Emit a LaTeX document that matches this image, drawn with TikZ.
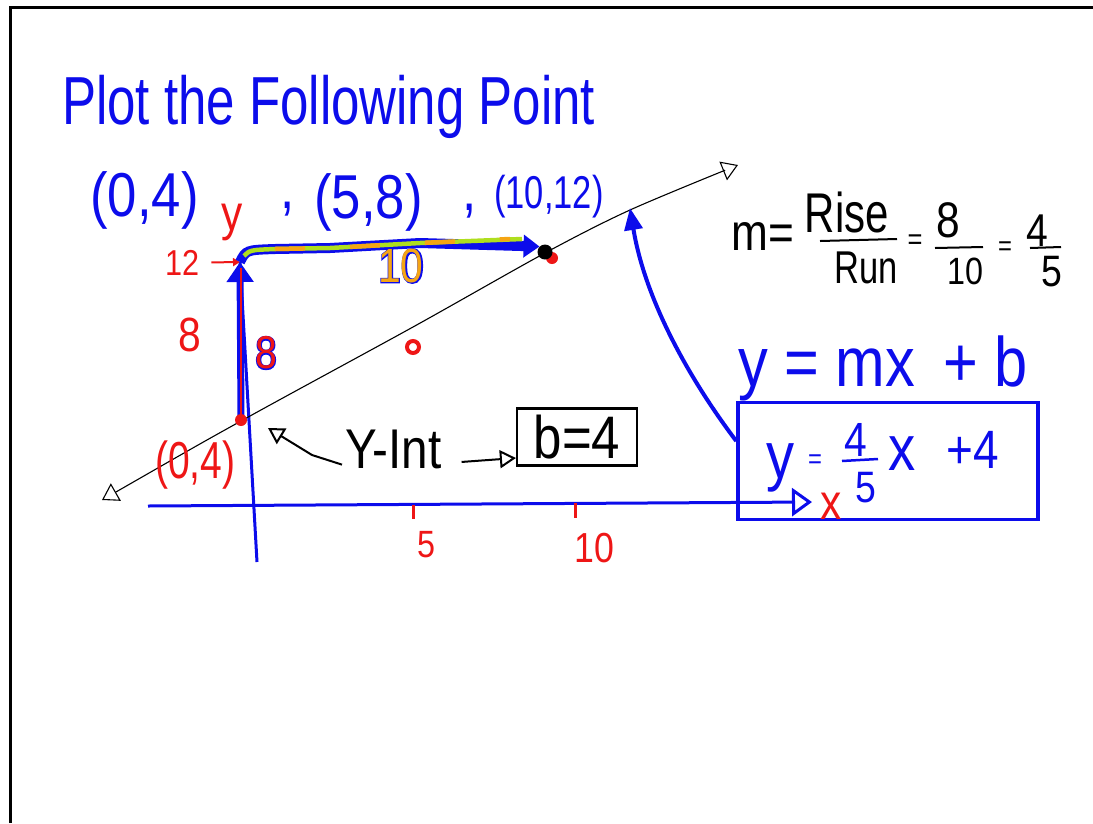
\documentclass[tikz,border=0pt]{standalone}
\usepackage{fontspec}
\setmainfont{Liberation Sans}
\newfontfamily\hand{Liberation Sans}[FakeStretch=0.85]
\newfontfamily\handN{Liberation Sans}[FakeStretch=0.75]
\newfontfamily\handbold{Liberation Sans}[FakeStretch=0.85,FakeBold=4]
\usetikzlibrary{arrows.meta, positioning, calc}
\definecolor{inkBlue} {RGB}{12,12,235}
\definecolor{inkRed}  {RGB}{238,22,22}
\definecolor{runGreen}{RGB}{175,222,30}
\definecolor{runOrange}{RGB}{245,165,20}
\newcommand\hsz[1]{\fontsize{#1}{#1}\selectfont}
\tikzset{
  hw/.style       = {inner sep=0pt, font=\hand\hsz{#1}},
  hwn/.style      = {inner sep=0pt, font=\handN\hsz{#1}},
  hwb/.style      = {inner sep=0pt, font=\handbold\hsz{#1}},
  bluetxt/.style  = {text=inkBlue},
  redtxt/.style   = {text=inkRed},
  axis/.style     = {draw=inkBlue, line width=3pt},
  tick/.style     = {draw=inkRed, line width=3pt},
  slopeline/.style= {draw=black, line width=1.1pt,
                     {Triangle[open, length=16pt, width=20pt]}-{Triangle[open, length=16pt, width=20pt]}},
  fracline/.style = {draw=black, line width=2pt},
  note/.style     = {draw=black, line width=2pt, -{Triangle[open, length=16pt, width=18pt]}},
  riseOuter/.style= {draw=inkBlue, line width=7pt, -{Triangle[length=20pt, width=26pt]}},
  riseInner/.style= {draw=inkRed, line width=1.5pt},
  runOuter/.style = {draw=inkBlue, line width=10pt, -{Triangle[length=16pt, width=22pt]}},
  runInner/.style = {draw=runGreen, line width=4.5pt},
  bigarrow/.style = {draw=inkBlue, line width=4pt, -{Triangle[length=22pt, width=18pt]}},
  dotRed/.style   = {circle, fill=inkRed, inner sep=0pt, minimum size=12pt},
}

\begin{document}
\begin{tikzpicture}[x=1pt, y=-1pt]
\useasboundingbox (0,0) rectangle (1093,823);

%% -- board frame
\draw[line width=3pt] (10,823) -- (10,7) -- (1093,7);

%% -- title and points
\node[hwn=68, bluetxt, anchor=base west] (title) at (62,124) {Plot the Following Point};
\node[hw=62, bluetxt, anchor=base west] (ptA) at (90,216) {(0,4)};
\node[hw=60, bluetxt, anchor=base west] (commaA) at (280,208) {,};
\node[hw=62, bluetxt, anchor=base west] (ptB) at (314,218) {(5,8)};
\node[hw=60, bluetxt, anchor=base west] (commaB) at (462,210) {,};
\node[hwn=46, bluetxt, anchor=base west] (ptC) at (494,208) {(10,12)};

%% -- axes
\coordinate (yBot) at (257,562);
\coordinate (yTop) at (240,262);
\coordinate (xStart) at (148,506);
\coordinate (xEnd) at (812,502);
\draw[axis] (yBot) -- (yTop);
\draw[axis, -{Triangle[open, length=20pt, width=28pt]}] (xStart) -- (xEnd);
\draw[tick] (413,505) -- (413,519);
\draw[tick] (575,503) -- (575,518);
\node[hw=38, redtxt] (lblFive) at (426,545) {5};
\node[hw=42, redtxt] (lblTen) at (594,548) {10};
\node[hw=50, redtxt, anchor=base west] (lblY) at (221,230) {y};
\node[hw=36, redtxt, anchor=base west] (lblTwelve) at (165,275) {12};
\node[hw=48, redtxt, anchor=base west] (lblEight) at (178,351) {8};
\draw[inkRed, line width=2pt, -{Triangle[length=7pt, width=8pt]}] ([xshift=12pt]lblTwelve.east) -- (yTop);

%% -- the line y = 4/5 x + 4
\coordinate (slopeTip) at (630,208);
\draw[slopeline] plot[smooth] coordinates
  {(102,500) (241,421) (413,327) (545,253) (630,210) (738,165)};

%% -- plotted points
\node[dotRed] (dotC) at (552,258) {};
\node[circle, fill=black, inner sep=0pt, minimum size=15pt] (pC) at (545,252) {};
\node[circle, draw=inkRed, line width=4pt, fill=white, inner sep=0pt, minimum size=12pt] (pB) at (413,347) {};

%% -- rise and run
\draw[riseOuter] (241,418) -- (yTop);
\draw[riseInner] (241,418) -- (241,268);
\node[dotRed] (pA) at (241,420) {};
\draw[runOuter] (yTop) .. controls (246,250) .. (275,249) -- (330,248) -- (420,243) -- (pC.north west);
\draw[runInner] (244,256) .. controls (250,250) .. (275,249) -- (330,248) -- (420,243) -- (522,239);
\draw[runOrange, line width=4.5pt, dash pattern=on 30pt off 45pt] (275,249) -- (330,248) -- (420,243) -- (510,239);
\node[hwb=48, bluetxt] (runB) at (401,266) {10};
\node[hw=48, text=runOrange] (run) at (401,266) {10};
\node[hwb=46, bluetxt] (riseB) at (266,353) {8};
\node[hw=46, redtxt] (rise) at (266,353) {8};
\node[hwn=52, redtxt, anchor=base west] (lblA) at (155,478) {(0,4)};

%% -- y-intercept note
\node[hw=56, anchor=base west] (yint) at (345,468) {Y-Int};
\coordinate (yintTip) at (268,428);
\draw[note] ([xshift=-3pt, yshift=4pt]yint.south west) -- (312,455) -- (yintTip);
\node[hw=60, draw, line width=2.2pt, minimum width=120pt, minimum height=57pt] (boxB) at (577,437) {b=4};
\draw[note] ([xshift=20pt, yshift=-13pt]yint.east) -- ([yshift=-21pt]boxB.west);

%% -- slope
\node[hw=52, anchor=base west] (mEq) at (731,250) {m=};
\node[hwn=56] (riseTxt) at (847,212) {Rise};
\node[hwn=46] (runTxt) at (866,268) {Run};
\draw[fracline] (820,241) -- (897,239);
\node[hw=30] (eqA) at (915,242) {=};
\node[hw=50] (num) at (948,220) {8};
\draw[fracline] (935,248) -- (983,247);
\node[hw=38] (den) at (965,271) {10};
\node[hw=28] (eqB) at (1005,249) {=};
\node[hw=46] (numR) at (1037,231) {4};
\draw[fracline] (1030,248) -- (1061,247);
\node[hw=44] (denR) at (1052,272) {5};

%% -- slope intercept form
\node[hw=70, bluetxt, anchor=base west] (form) at (738,386) {y = mx \,+ b};
\node[draw=inkBlue, line width=3.5pt, minimum width=300pt, minimum height=117pt] (eqBox) at (888,461) {};
\node[hw=66, bluetxt, anchor=base west] (eqY) at (766,478) {y};
\node[hw=28, bluetxt] (eqEq) at (815,462) {=};
\node[hw=48, bluetxt] (eqNum) at (856,440) {4};
\draw[inkBlue, line width=2.5pt] (842,461) -- (878,459);
\node[hw=44, bluetxt] (eqDen) at (866,488) {5};
\node[hw=64, bluetxt, anchor=base west] (eqX) at (888,470) {x};
\node[hw=54, bluetxt, anchor=base west] (eqPlus) at (946,468) {+4};
\node[hw=50, redtxt, anchor=base west] (xLbl) at (820,519) {x};
\draw[bigarrow] ([yshift=20pt]eqBox.west) .. controls (690,380) and (645,300) .. (slopeTip);

\end{tikzpicture}
\end{document}
